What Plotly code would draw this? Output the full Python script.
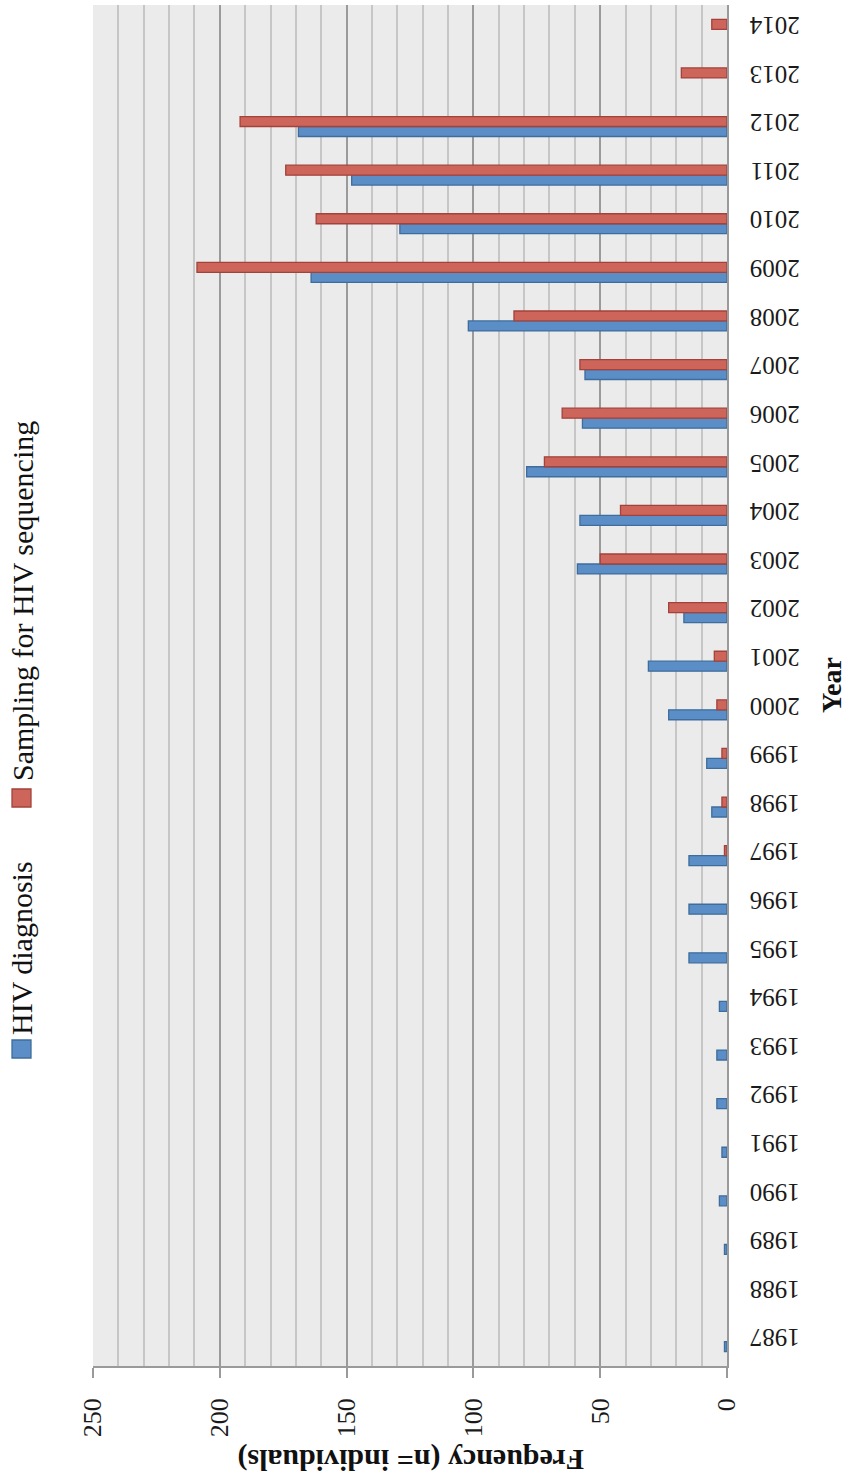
import plotly.graph_objects as go

years = list(range(1987, 2015))
hiv_diagnosis = [1, None, 1, 3, 2, 4, 4, 3, 15, 15, 15, 6, 8, 23, 31, 17, 59, 58, 79, 57, 56, 102, 164, 129, 148, 169, None, None]
sampling = [None, None, None, None, None, None, None, None, None, None, 1, 2, 2, 4, 5, 23, 50, 42, 72, 65, 58, 84, 209, 162, 174, 192, 18, 6]
value_ticks = [0, 50, 100, 150, 200, 250]

FONT = "Liberation Serif"
W, H = 849, 1482
L, R, T, B = 93, 122, 5, 116
PW, PH = W - L - R, H - T - B

def px(x):
    return (x - L) / PW

def py(y):
    return (H - B - y) / PH

fig = go.Figure()
fig.add_trace(go.Bar(
    y=years, x=hiv_diagnosis, orientation="h", name="HIV diagnosis",
    marker=dict(color="#5b8ec7", line=dict(color="#3e6d9c", width=1.3)),
    showlegend=False,
))
fig.add_trace(go.Bar(
    y=years, x=sampling, orientation="h", name="Sampling for HIV sequencing",
    marker=dict(color="#cd655b", line=dict(color="#a2423b", width=1.3)),
    showlegend=False,
))

fig.update_layout(
    width=W, height=H,
    margin=dict(l=L, r=R, t=T, b=B),
    paper_bgcolor="white", plot_bgcolor="#ebebeb",
    barmode="group", bargap=0.59, bargroupgap=0,
    font=dict(family=FONT, color="#1a1a1a"),
    xaxis=dict(
        range=[250, 0], tickmode="array", tickvals=value_ticks,
        tickangle=-90, tickfont=dict(size=26, family=FONT),
        showgrid=True, gridcolor="#9a9a9a", gridwidth=1.5,
        minor=dict(dtick=10, showgrid=True, gridcolor="#c6c6c6", gridwidth=1.5, ticks=""),
        showline=True, linecolor="#9a9a9a", linewidth=1.5,
        ticks="outside", ticklen=10, tickcolor="#9a9a9a", tickwidth=1.5,
        ticklabelstandoff=10, zeroline=False,
    ),
    yaxis=dict(
        range=[1986.5, 2014.5], tickmode="array", tickvals=years,
        ticktext=[str(y) for y in years],
        side="right", tickangle=180, tickfont=dict(size=25, family=FONT),
        showgrid=False, showline=True, linecolor="#9a9a9a", linewidth=1.5,
        ticks="", ticklabelstandoff=66, ticklabelshift=4, zeroline=False,
    ),
)

annotations = [
    dict(text="<b>Frequency (n= individuals)</b>", x=px(411), y=py(1460),
         textangle=180, font=dict(size=30, family=FONT, color="#111")),
    dict(text="<b>Year</b>", x=px(831), y=py(685), textangle=-90,
         font=dict(size=28, family=FONT, color="#111")),
    dict(text="HIV diagnosis", x=px(22), y=py(948), textangle=-90,
         font=dict(size=30, family=FONT, color="#111")),
    dict(text="Sampling for HIV sequencing", x=px(22), y=py(601), textangle=-90,
         font=dict(size=30, family=FONT, color="#111")),
]
for a in annotations:
    a.update(xref="paper", yref="paper", showarrow=False, xanchor="center", yanchor="middle")
fig.update_layout(annotations=annotations)

shapes = [
    dict(type="rect", x0=px(12), x1=px(31), y0=py(1058), y1=py(1040),
         fillcolor="#5b8ec7", line=dict(color="#3e6d9c", width=1.3)),
    dict(type="rect", x0=px(12), x1=px(31), y0=py(807), y1=py(789),
         fillcolor="#cd655b", line=dict(color="#a2423b", width=1.3)),
]
for s in shapes:
    s.update(xref="paper", yref="paper")
fig.update_layout(shapes=shapes)

fig.write_html("out.html")
